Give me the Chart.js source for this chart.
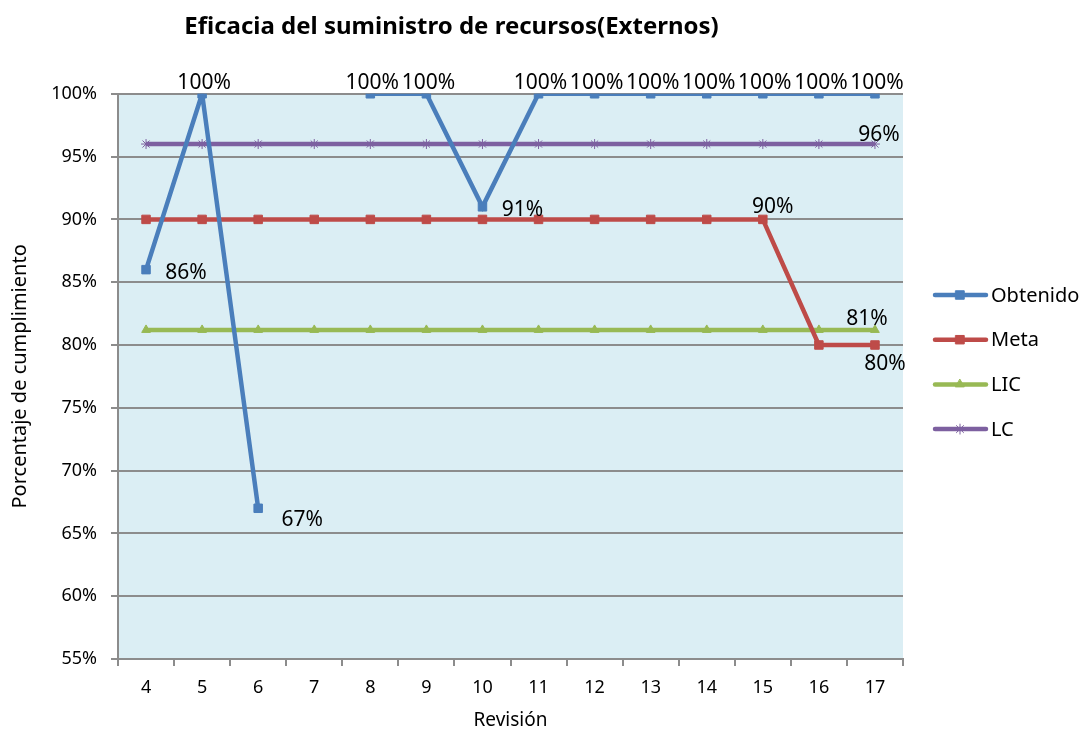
<!DOCTYPE html>
<html>
<head>
<meta charset="utf-8">
<script src="https://cdn.jsdelivr.net/npm/chart.js@4.4.1/dist/chart.umd.min.js"></script>
<style>
  html, body { margin: 0; padding: 0; background: #fff; }
  #wrap { width: 1085px; height: 732px; }
</style>
</head>
<body>
<div id="wrap"><canvas id="chart"></canvas></div>
<script>
// data
const revisiones = ['4', '5', '6', '7', '8', '9', '10', '11', '12', '13', '14', '15', '16', '17']
const obtenido = [86, 100, 67, null, 100, 100, 91, 100, 100, 100, 100, 100, 100, 100]
const meta = [90, 90, 90, 90, 90, 90, 90, 90, 90, 90, 90, 90, 80, 80]
const lic = [81.2, 81.2, 81.2, 81.2, 81.2, 81.2, 81.2, 81.2, 81.2, 81.2, 81.2, 81.2, 81.2, 81.2]
const lc = [96, 96, 96, 96, 96, 96, 96, 96, 96, 96, 96, 96, 96, 96]

const FONT = "'Noto Sans', 'DejaVu Sans', sans-serif"
const gridColor = '#8c8c8c'

// where each value label goes (index -> offset from point), per dataset
const labelSpots = [
  (v, i) => v === 100 ? { dx: 2, dy: -11 } : (i === 2 ? { dx: 44, dy: 12 } : { dx: 40, dy: 3 }),
  (v, i) => i === 11 ? { dx: 10, dy: -12 } : (i === 13 ? { dx: 10, dy: 19 } : null),
  (v, i) => i === 13 ? { dx: -8, dy: -11 } : null,
  (v, i) => i === 13 ? { dx: 4, dy: -9 } : null
]

const plotBg = {
  id: 'plotBg',
  beforeDraw(chart) {
    const { ctx, chartArea: a } = chart
    ctx.save()
    ctx.fillStyle = '#dbeef4'
    ctx.fillRect(a.left, a.top, a.right - a.left, a.bottom - a.top)
    ctx.restore()
  }
}

const valueLabels = {
  id: 'valueLabels',
  afterDatasetsDraw(chart) {
    const ctx = chart.ctx
    ctx.save()
    ctx.font = '21px ' + FONT
    ctx.fillStyle = '#000'
    ctx.textAlign = 'center'
    ctx.textBaseline = 'middle'
    chart.data.datasets.forEach((ds, d) => {
      const meta = chart.getDatasetMeta(d)
      meta.data.forEach((pt, i) => {
        const v = ds.data[i]
        if (v == null) return
        const spot = labelSpots[d](v, i)
        if (!spot) return
        ctx.fillText(Math.round(v) + '%', pt.x + spot.dx, pt.y + spot.dy)
      })
    })
    ctx.restore()
  }
}

// legend on the right, line with marker in the middle
const sideLegend = {
  id: 'sideLegend',
  afterDraw(chart) {
    const ctx = chart.ctx
    ctx.save()
    ctx.font = '20px ' + FONT
    ctx.textBaseline = 'middle'
    ctx.textAlign = 'left'
    chart.data.datasets.forEach((ds, d) => {
      const y = 295 + d * 44.7
      ctx.strokeStyle = ds.borderColor
      ctx.fillStyle = ds.borderColor
      ctx.lineWidth = 4.5
      ctx.lineCap = 'round'
      ctx.beginPath()
      ctx.moveTo(935, y)
      ctx.lineTo(986, y)
      ctx.stroke()
      ctx.lineWidth = 1
      Chart.helpers.drawPoint(ctx, {
        pointStyle: ds.pointStyle, radius: ds.pointRadius, borderWidth: 1
      }, 960, y)
      ctx.fillStyle = '#000'
      ctx.fillText(ds.label, 991, y + 1)
    })
    ctx.restore()
  }
}

function serie(label, data, color, style, r) {
  return {
    label: label,
    data: data,
    borderColor: color,
    backgroundColor: color,
    borderWidth: 4.5,
    pointStyle: style,
    pointRadius: r,
    pointHoverRadius: r,
    pointBorderColor: color,
    pointBackgroundColor: color,
    pointBorderWidth: 1,
    tension: 0,
    spanGaps: false
  }
}

new Chart(document.getElementById('chart'), {
  type: 'line',
  data: {
    labels: revisiones,
    datasets: [
      serie('Obtenido', obtenido, '#4a7ebb', 'rect', 6),
      serie('Meta', meta, '#be4b48', 'rect', 6),
      serie('LIC', lic, '#98b954', 'triangle', 5),
      serie('LC', lc, '#7d60a0', 'star', 5)
    ]
  },
  options: {
    responsive: true,
    maintainAspectRatio: false,
    animation: false,
    layout: { padding: { left: 0, right: 182, top: 0, bottom: 0 } },
    plugins: {
      legend: { display: false },
      tooltip: { enabled: false },
      title: {
        display: true,
        text: 'Eficacia del suministro de recursos(Externos)',
        color: '#000',
        font: { family: FONT, size: 24, weight: 'bold' },
        padding: { top: 13, bottom: 52 }
      }
    },
    scales: {
      x: {
        offset: true,
        grid: {
          offset: true,
          drawOnChartArea: false,
          drawTicks: true,
          tickLength: 7,
          color: gridColor,
          lineWidth: 2
        },
        border: { color: gridColor, width: 2 },
        ticks: { color: '#000', font: { family: FONT, size: 18 }, padding: 11, maxRotation: 0 },
        title: {
          display: true,
          text: 'Revisión',
          color: '#000',
          font: { family: FONT, size: 19 },
          padding: { top: 0, bottom: 0 }
        },
        afterFit(scale) { scale.height = 73 }
      },
      y: {
        min: 55,
        max: 100,
        ticks: {
          stepSize: 5,
          color: '#000',
          font: { family: FONT, size: 18 },
          padding: 14,
          callback: v => v + '%'
        },
        grid: { color: gridColor, lineWidth: 2, tickLength: 7 },
        border: { color: gridColor, width: 2 },
        title: {
          display: true,
          text: 'Porcentaje de cumplimiento',
          color: '#000',
          font: { family: FONT, size: 20 },
          padding: { top: 8, bottom: 0 }
        },
        afterFit(scale) { scale.width = 118 }
      }
    }
  },
  plugins: [plotBg, valueLabels, sideLegend]
})
</script>
</body>
</html>
